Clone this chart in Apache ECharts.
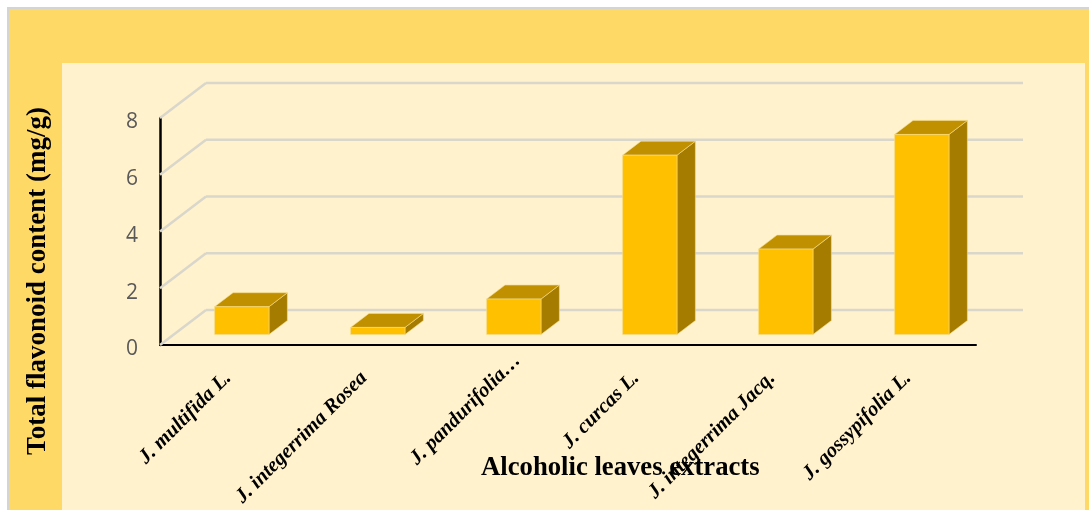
<!DOCTYPE html>
<html>
<head>
<meta charset="utf-8">
<style>
html,body{margin:0;padding:0;width:1089px;height:510px;background:#fff;overflow:hidden}
#frame{position:absolute;left:7px;top:7px;right:0;bottom:0;background:#FFD966;border-left:2px solid #d4d4d4;border-top:2px solid #d4d4d4}
#panel{position:absolute;left:62px;top:63px;width:1023px;height:447px;background:#FFF2CC}
#chart{position:absolute;left:0;top:0;width:1089px;height:510px}
</style>
<script src="https://cdn.jsdelivr.net/npm/echarts@6/dist/echarts.min.js"></script>
</head>
<body>
<div id="frame"></div>
<div id="panel"></div>
<div id="chart"></div>
<script>
const categories = ["J. multifida L.", "J. integerrima Rosea", "J. pandurifolia…", "J. curcas L.", "J. integerrima Jacq.", "J. gossypifolia L."];
const flavonoid = [0.98, 0.25, 1.25, 6.32, 3.01, 7.05];
const yTicks = [0, 2, 4, 6, 8];
const xTitle = "Alcoholic leaves extracts";
const yTitle = "Total flavonoid content (mg/g)";

const DEPTH_X = 46, DEPTH_Y = 35;
const serif = '"Liberation Serif","Times New Roman",serif';

function wallItem(params, api) {
  const cs = params.coordSys;
  const y = api.coord([0, api.value(0)])[1];
  const style = {stroke: '#d9d6cc', lineWidth: 2.5, fill: null};
  return {type: 'group', children: [
    {type: 'line', shape: {x1: cs.x, y1: y, x2: cs.x + DEPTH_X, y2: y - DEPTH_Y}, style},
    {type: 'line', shape: {x1: cs.x + DEPTH_X, y1: y - DEPTH_Y, x2: cs.x + cs.width + DEPTH_X + 1, y2: y - DEPTH_Y}, style}
  ]};
}

function barItem(params, api) {
  const i = api.value(0), v = api.value(1);
  const base = api.coord([i, 0]), top = api.coord([i, v]);
  const w = api.size([1, 0])[0] * 0.4;
  const x0 = base[0] + DEPTH_X * 0.3 - w / 2, x1 = x0 + w;
  const yb = base[1] - DEPTH_Y * 0.3, yt = top[1] - DEPTH_Y * 0.3;
  const dx = DEPTH_X * 0.4, dy = DEPTH_Y * 0.4;
  const edge = {stroke: '#f7dc8a', lineWidth: 0.6};
  return {type: 'group', children: [
    {type: 'polygon', shape: {points: [[x1, yt], [x1 + dx, yt - dy], [x1 + dx, yb - dy], [x1, yb]]}, style: {fill: '#A67C00', ...edge}},
    {type: 'polygon', shape: {points: [[x0, yt], [x0 + dx, yt - dy], [x1 + dx, yt - dy], [x1, yt]]}, style: {fill: '#C09000', ...edge}},
    {type: 'rect', shape: {x: x0, y: yt, width: w, height: yb - yt}, style: {fill: '#FFC000', ...edge}}
  ]};
}

const labelData = categories.map((c, i) => c.endsWith('…')
  ? {value: c, textStyle: {align: 'center', padding: [0, 98, 0, 0]}}
  : c);

const chart = echarts.init(document.getElementById('chart'), null, {renderer: 'canvas'});
chart.setOption({
  animation: false,
  backgroundColor: 'transparent',
  grid: {left: 160, top: 118, width: 816, height: 227, containLabel: false, outerBoundsMode: 'none'},
  title: {
    text: xTitle, left: 476, top: 450,
    textStyle: {fontFamily: serif, fontSize: 26.7, fontWeight: 'bold', color: '#000'}
  },
  xAxis: {
    type: 'category', data: labelData,
    axisLine: {show: true, lineStyle: {color: '#000', width: 2}},
    axisTick: {show: false},
    axisLabel: {interval: 0, rotate: 45, margin: 30, fontFamily: serif, fontSize: 20.6, fontWeight: 'bold', fontStyle: 'italic', color: '#000', hideOverlap: false}
  },
  yAxis: {
    type: 'value', min: 0, max: 8, interval: 2,
    axisLine: {show: true, lineStyle: {color: '#000', width: 2.5}},
    axisTick: {show: false},
    splitLine: {show: false},
    axisLabel: {margin: 22, verticalAlign: 'top', lineHeight: 9, fontFamily: '"Open Sans","Noto Sans",sans-serif', fontSize: 21, color: '#595959'}
  },
  graphic: [{
    type: 'text', x: 38, y: 281, rotation: Math.PI / 2,
    style: {text: yTitle, fontFamily: serif, fontSize: 27, fontWeight: 'bold', fill: '#000', align: 'center', verticalAlign: 'middle'}
  }],
  series: [
    {type: 'custom', name: 'walls', data: yTicks.map(t => [t]), encode: {y: 0}, renderItem: wallItem, silent: true, z: 1},
    {type: 'custom', name: 'Total flavonoid content', data: flavonoid.map((v, i) => [i, v]), encode: {x: 0, y: 1}, renderItem: barItem, silent: true, z: 2}
  ]
});
</script>
</body>
</html>
